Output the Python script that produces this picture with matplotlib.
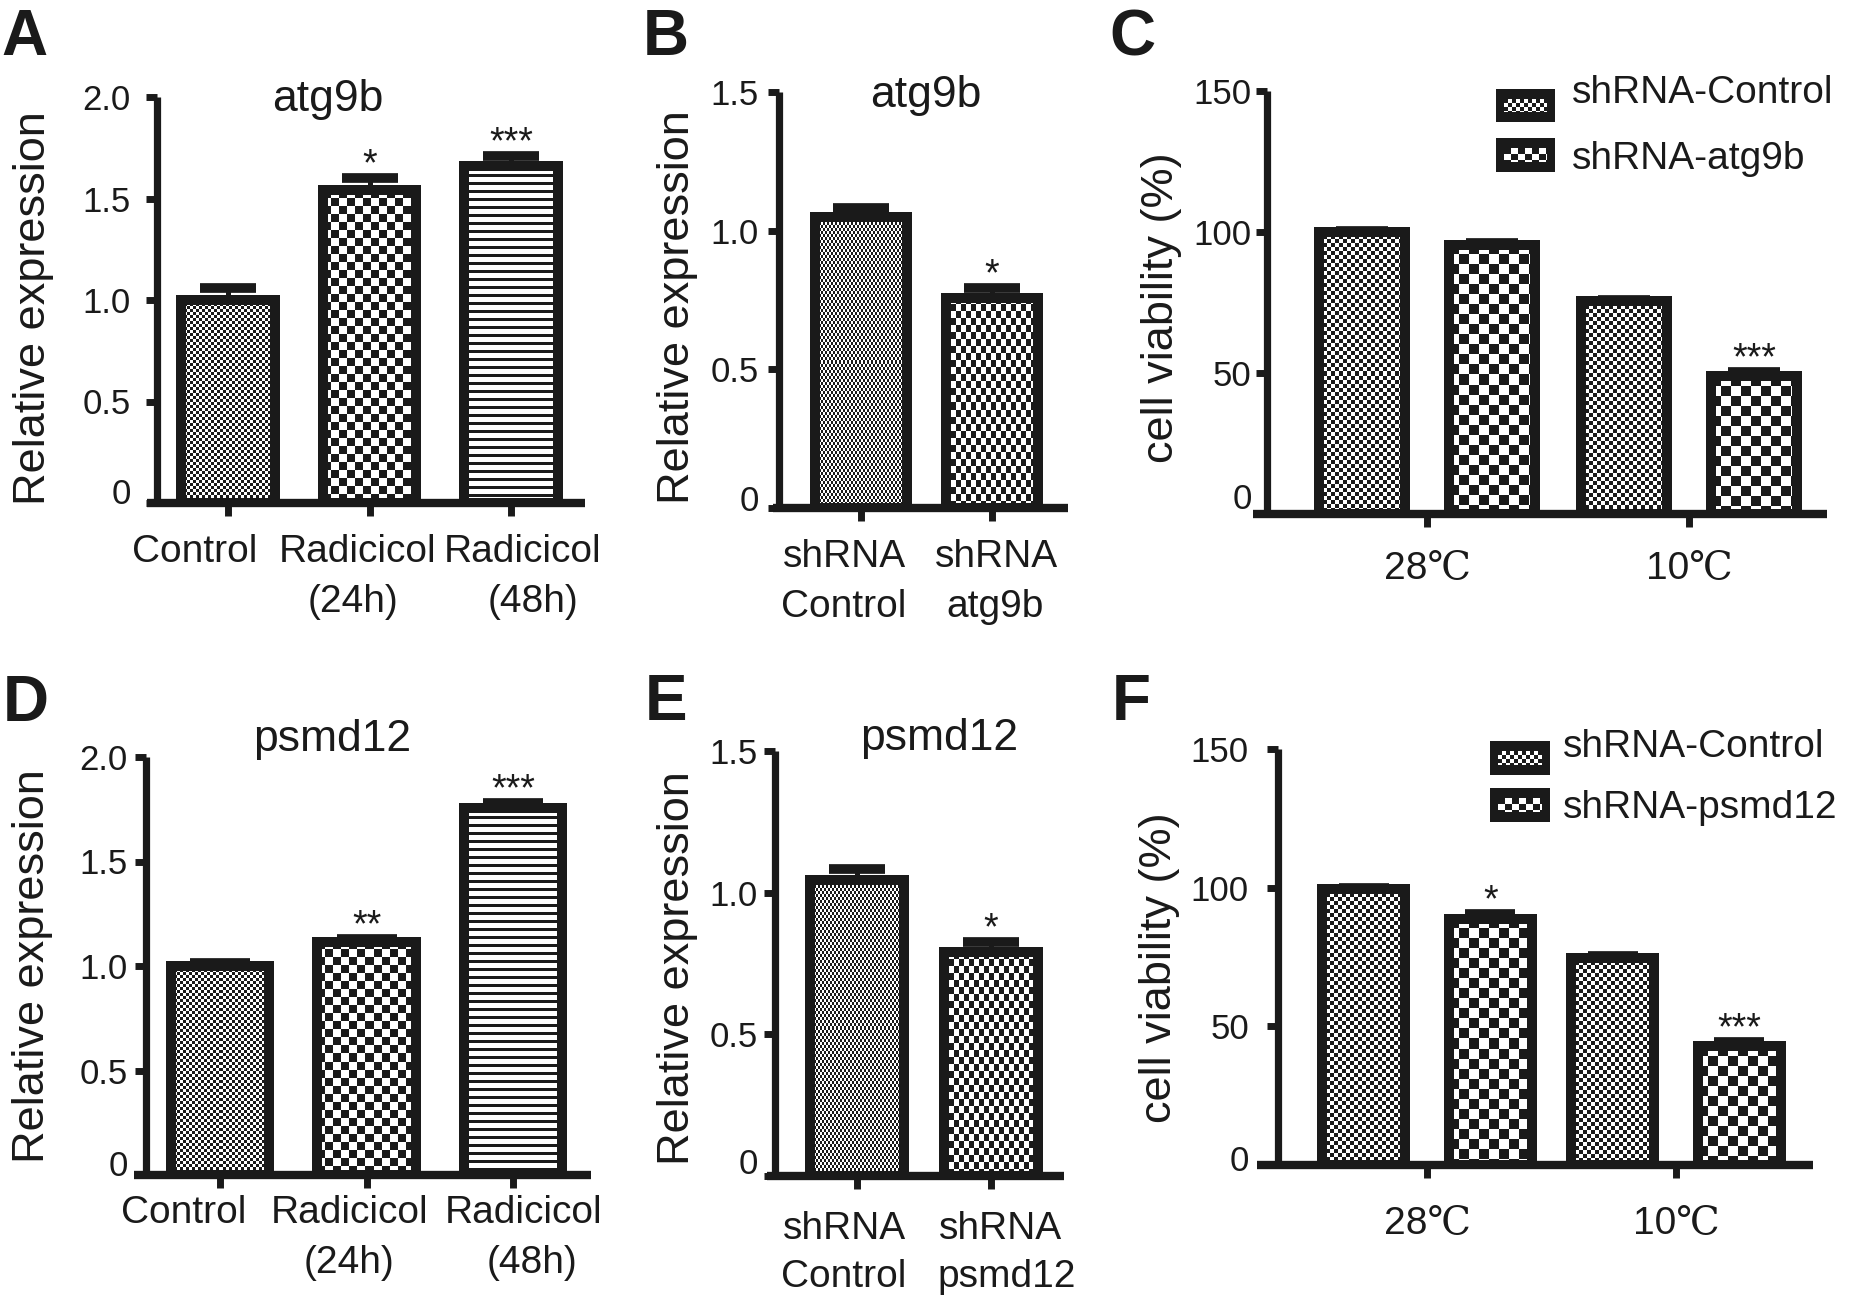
import numpy as np
import matplotlib
matplotlib.use('Agg')
import matplotlib.pyplot as plt
from matplotlib.colors import ListedColormap
from matplotlib.transforms import ScaledTranslation

plt.rcParams['font.family'] = ['Liberation Sans', 'DejaVu Serif']

K = '#1a1a1a'
W, H, DPI = 1850, 1300, 100
CMAP = ListedColormap([K, 'white'])

# ---------------- data ----------------
a_categories = ['Control', 'Radicicol\n(24h)', 'Radicicol\n(48h)']
a_values = [1.00, 1.54, 1.66]
a_errors = [0.06, 0.06, 0.05]
a_stars = ['', '*', '***']
a_yticks = [0, 0.5, 1.0, 1.5, 2.0]
a_yticklabels = ['0', '0.5', '1.0', '1.5', '2.0']

b_categories = ['shRNA\nControl', 'shRNA\natg9b']
b_values = [1.05, 0.758]
b_errors = [0.031, 0.034]
b_stars = ['', '*']
b_yticks = [0, 0.5, 1.0, 1.5]
b_yticklabels = ['0', '0.5', '1.0', '1.5']

c_groups = ['28\u2103', '10\u2103']
c_series = ['shRNA-Control', 'shRNA-atg9b']
c_control = [100.0, 75.5]
c_control_err = [0.3, 0.4]
c_knock = [95.5, 48.8]
c_knock_err = [0.6, 1.4]
c_control_stars = ['', '']
c_knock_stars = ['', '***']
c_yticks = [0, 50, 100, 150]
c_yticklabels = ['0', '50', '100', '150']

d_categories = ['Control', 'Radicicol\n(24h)', 'Radicicol\n(48h)']
d_values = [1.00, 1.115, 1.755]
d_errors = [0.015, 0.015, 0.026]
d_stars = ['', '**', '***']
d_yticks = [0, 0.5, 1.0, 1.5, 2.0]
d_yticklabels = ['0', '0.5', '1.0', '1.5', '2.0']

e_categories = ['shRNA\nControl', 'shRNA\npsmd12']
e_values = [1.045, 0.789]
e_errors = [0.039, 0.038]
e_stars = ['', '*']
e_yticks = [0, 0.5, 1.0, 1.5]
e_yticklabels = ['0', '0.5', '1.0', '1.5']

f_groups = ['28\u2103', '10\u2103']
f_series = ['shRNA-Control', 'shRNA-psmd12']
f_control = [99.5, 74.8]
f_control_err = [0.3, 0.4]
f_knock = [88.8, 42.8]
f_knock_err = [1.7, 1.7]
f_control_stars = ['', '']
f_knock_stars = ['*', '***']
f_yticks = [0, 50, 100, 150]
f_yticklabels = ['0', '50', '100', '150']

# ---------------- textures ----------------
PATTERNS = {
    'fine': ('checker', 3, 3),
    'fine4': ('checker', 4, 4),
    'coarse': ('checker', 8, 8),
    'coarse10': ('checker', 10, 10),
    'tiny': ('checker', 2, 3),
    'rect': ('checker', 5, 7),
    'stripes': ('stripes', 8, 3),
    'leg_fine': ('checker', 4, 4),
    'leg_coarse': ('checker', 7, 6),
}


def texture(name, wpx, hpx):
    kind, a, b = PATTERNS[name]
    iy, ix = np.mgrid[0:hpx, 0:wpx]
    if kind == 'stripes':
        black = (iy % a) < b
    else:
        black = ((ix // a) + (iy // b)) % 2 == 0
    return np.where(black, 0, 1)


fig = plt.figure(figsize=(W / DPI, H / DPI), dpi=DPI)
fig.patch.set_facecolor('white')


def fx(x):
    return x / W


def fy(y):
    return 1 - y / H


def px2pt(p):
    return p * 72.0 / DPI


def make_axes(L):
    ax = fig.add_axes([fx(L['xl']), fy(L['y0']), (L['xr'] - L['xl']) / W,
                       (L['y0'] - L['ytop']) / H])
    sp, c0 = L['sp'], L['c0']
    ax.set_xlim((L['xl'] - c0) / sp, (L['xr'] - c0) / sp)
    ax.set_ylim(L['ylim'])
    ax.set_autoscale_on(False)
    ax.patch.set_alpha(0)
    for s in ['top', 'right']:
        ax.spines[s].set_visible(False)
    ax.spines['left'].set_position(('data', (L['spine'] - c0) / sp))
    ax.spines['left'].set_linewidth(5.2)
    ax.spines['bottom'].set_linewidth(6)
    for s in ['left', 'bottom']:
        ax.spines[s].set_color(K)
        ax.spines[s].set_capstyle('butt')
    ax.tick_params(axis='y', direction='out', length=8, width=5,
                   pad=L['ypad'], labelsize=25, colors=K)
    ax.tick_params(axis='x', direction='out', length=9, width=5,
                   labelbottom=False, colors=K)
    return ax


def lift_zero_label(ax, lift_px):
    lbl = ax.yaxis.get_major_ticks()[0].label1
    lbl.set_transform(lbl.get_transform() +
                      ScaledTranslation(0, lift_px / DPI, fig.dpi_scale_trans))


def textured_bars(ax, x, heights, width, patterns, lw=7.2):
    bars = ax.bar(x, heights, width, facecolor='none', edgecolor=K,
                  linewidth=lw, zorder=3)
    for rect, pat in zip(bars, patterns):
        x0, w, h = rect.get_x(), rect.get_width(), rect.get_height()
        p0 = ax.transData.transform((x0, 0))
        p1 = ax.transData.transform((x0 + w, h))
        wpx = max(1, int(round(p1[0] - p0[0])))
        hpx = max(1, int(round(p1[1] - p0[1])))
        im = ax.imshow(texture(pat, wpx, hpx), extent=(x0, x0 + w, 0, h),
                       cmap=CMAP, vmin=0, vmax=1, interpolation='nearest',
                       aspect='auto', zorder=2)
        im.set_clip_path(rect)
    return bars


def err_and_stars(ax, x, values, errors, stars, capsize):
    n = len(values)
    ax.errorbar(x, values, yerr=[np.zeros(n), errors], fmt='none', ecolor=K,
                elinewidth=3.6, capsize=capsize, capthick=7, zorder=4)
    for xi, v, e, s in zip(x, values, errors, stars):
        if s:
            ax.annotate(s, (xi, v + e), xytext=(0, 2), textcoords='offset points',
                        ha='center', va='baseline', fontsize=27, color=K)


def category_labels(ax, L, x, labels):
    # each line of a label is placed by its own baseline (pixels below axis)
    for xi, lab, offs in zip(x, labels, L['dx']):
        for line, base, dx in zip(lab.split('\n'), L['base'], offs):
            ax.annotate(line, (xi, 0), xytext=(px2pt(dx), -px2pt(base - L['y0'])),
                        textcoords='offset points', ha='center', va='baseline',
                        fontsize=28, color=K, annotation_clip=False)


def finish(ax, L, yt, ytl, xt, labels):
    ax.set_yticks(yt, ytl)
    ax.set_xticks(xt)
    category_labels(ax, L, xt, labels)
    ax.set_xlim((L['xl'] - L['c0']) / L['sp'], (L['xr'] - L['c0']) / L['sp'])
    ax.set_ylim(L['ylim'])
    lift_zero_label(ax, L['lift'])


def simple_panel(L, cats, vals, errs, stars, yt, ytl, patterns, barw, capsize):
    ax = make_axes(L)
    x = np.arange(len(vals))
    textured_bars(ax, x, vals, barw, patterns)
    err_and_stars(ax, x, vals, errs, stars, capsize)
    finish(ax, L, yt, ytl, x, cats)
    return ax


def grouped_panel(L, groups, ctrl, ctrl_err, ctrl_st, kd, kd_err, kd_st, yt, ytl,
                  barw, off, capsize):
    ax = make_axes(L)
    g = np.arange(len(groups))
    textured_bars(ax, g - off, ctrl, barw, ['fine4'] * len(g))
    textured_bars(ax, g + off, kd, barw, ['coarse10'] * len(g))
    err_and_stars(ax, g - off, ctrl, ctrl_err, ctrl_st, capsize)
    err_and_stars(ax, g + off, kd, kd_err, kd_st, capsize)
    finish(ax, L, yt, ytl, g, groups)
    return ax


def legend_patch(x0, y0, x1, y1, pattern):
    lax = fig.add_axes([fx(x0), fy(y1), (x1 - x0) / W, (y1 - y0) / H])
    w, h = x1 - x0, y1 - y0
    lax.set_facecolor(K)
    lax.imshow(texture(pattern, w - 16, h - 20), extent=(8, w - 8, 10, h - 10),
               cmap=CMAP, vmin=0, vmax=1, interpolation='nearest', aspect='auto')
    lax.set_xlim(0, w)
    lax.set_ylim(0, h)
    lax.set_xticks([])
    lax.set_yticks([])
    for s in lax.spines.values():
        s.set_visible(False)


# ---------------- layout (pixels) ----------------
LA = dict(xl=147, xr=585, spine=157, ytop=97, y0=503, c0=228, sp=141.5,
          ylim=(0, 2.0), ypad=11, lift=12,
          base=(562, 612), dx=[(-33,), (-12, -16), (12, 22)])
LB = dict(xl=773, xr=1068, spine=779, ytop=92, y0=508, c0=861, sp=131,
          ylim=(0, 1.5), ypad=6.5, lift=10,
          base=(567, 617), dx=[(-17, -17), (5, 3)])
LC = dict(xl=1253, xr=1827, spine=1267, ytop=91, y0=514, c0=1427, sp=262,
          ylim=(0, 150), ypad=3, lift=18,
          base=(579,), dx=[(0,), (0,)])
LD = dict(xl=134, xr=591, spine=146, ytop=757, y0=1175, c0=220, sp=146.5,
          ylim=(0, 2.0), ypad=5, lift=12,
          base=(1223, 1273), dx=[(-36,), (-17, -17), (11, 19)])
LE = dict(xl=767, xr=1064, spine=775, ytop=751, y0=1176, c0=857, sp=134,
          ylim=(0, 1.5), ypad=4.5, lift=15,
          base=(1239, 1287), dx=[(-13, -13), (10, 16)])
LF = dict(xl=1257, xr=1813, spine=1278, ytop=749, y0=1165, c0=1427, sp=249,
          ylim=(0, 150), ypad=13, lift=7,
          base=(1234,), dx=[(0,), (0,)])

simple_panel(LA, a_categories, a_values, a_errors, a_stars, a_yticks, a_yticklabels,
             ['fine', 'coarse', 'stripes'], 0.664, 20.5)
simple_panel(LB, b_categories, b_values, b_errors, b_stars, b_yticks, b_yticklabels,
             ['tiny', 'rect'], 0.70, 20)
grouped_panel(LC, c_groups, c_control, c_control_err, c_control_stars,
              c_knock, c_knock_err, c_knock_stars, c_yticks, c_yticklabels,
              0.328, 0.248, 18.4)
simple_panel(LD, d_categories, d_values, d_errors, d_stars, d_yticks, d_yticklabels,
             ['fine', 'coarse', 'stripes'], 0.67, 21.5)
simple_panel(LE, e_categories, e_values, e_errors, e_stars, e_yticks, e_yticklabels,
             ['tiny', 'rect'], 0.70, 20)
grouped_panel(LF, f_groups, f_control, f_control_err, f_control_stars,
              f_knock, f_knock_err, f_knock_stars, f_yticks, f_yticklabels,
              0.337, 0.255, 18)

# legends
legend_patch(1496, 89, 1555, 122, 'leg_fine')
legend_patch(1496, 138, 1555, 172, 'leg_coarse')
fig.text(fx(1572), fy(103), c_series[0], fontsize=28, color=K, va='baseline')
fig.text(fx(1572), fy(169), c_series[1], fontsize=28, color=K, va='baseline')
legend_patch(1490, 741, 1550, 775, 'leg_fine')
legend_patch(1490, 788, 1550, 822, 'leg_coarse')
fig.text(fx(1563), fy(757), f_series[0], fontsize=28, color=K, va='baseline')
fig.text(fx(1563), fy(818), f_series[1], fontsize=28, color=K, va='baseline')

# titles
for cx, by, t in [(328, 111, 'atg9b'), (926, 107, 'atg9b'),
                  (332, 751, 'psmd12'), (939, 750, 'psmd12')]:
    fig.text(fx(cx), fy(by), t, fontsize=32, color=K, ha='center', va='baseline')

# y labels
for cx, cy, t in [(34, 308, 'Relative expression'), (677, 307, 'Relative expression'),
                  (1161, 308, 'cell viability (%)'), (33, 966, 'Relative expression'),
                  (677, 968, 'Relative expression'), (1160, 968, 'cell viability (%)')]:
    fig.text(fx(cx), fy(cy), t, fontsize=32.5, color=K, rotation=90,
             ha='center', va='center')

# panel letters
for x, by, t in [(1, 55, 'A'), (643, 55, 'B'), (1109, 55, 'C'),
                 (3, 721, 'D'), (645, 720, 'E'), (1112, 720, 'F')]:
    fig.text(fx(x), fy(by), t, fontsize=46, fontweight='bold', color=K,
             ha='left', va='baseline')

fig.savefig('out.png', dpi=DPI, facecolor='white')
